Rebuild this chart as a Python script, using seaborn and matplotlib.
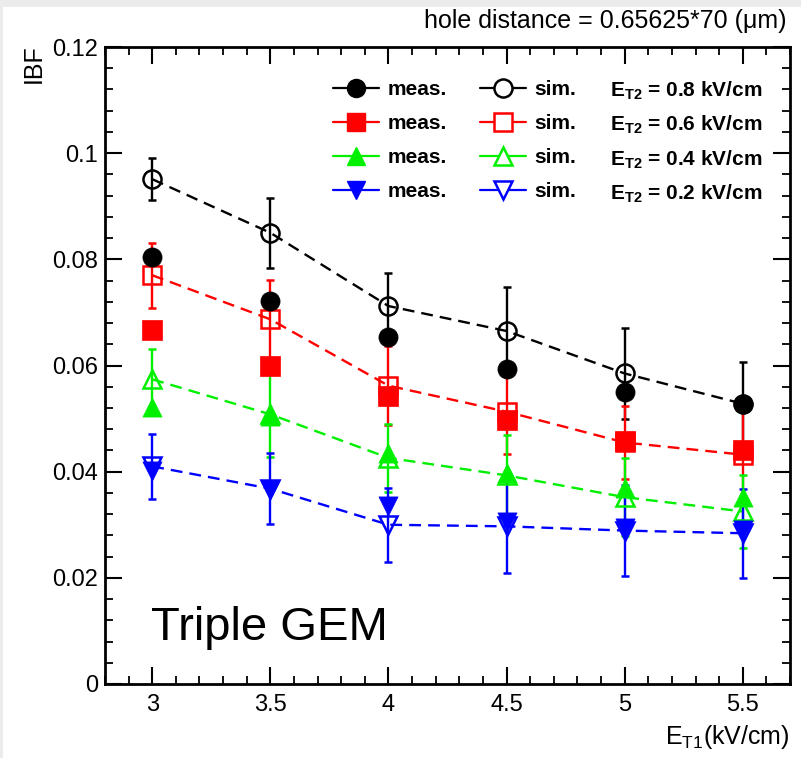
import matplotlib
matplotlib.use("Agg")
import matplotlib.pyplot as plt
import seaborn as sns
import numpy as np
from matplotlib.lines import Line2D
from matplotlib.patches import Rectangle
from matplotlib.ticker import MultipleLocator, FixedLocator

# ---------------- data ----------------
e_t1 = [3.0, 3.5, 4.0, 4.5, 5.0, 5.5]

meas_08 = [0.0805, 0.0721, 0.0653, 0.0594, 0.0551, 0.0528]
sim_08 = [0.0951, 0.0850, 0.0712, 0.0665, 0.0585, 0.0528]
sim_08_err = [0.0039, 0.0066, 0.0062, 0.0082, 0.0085, 0.0079]

meas_06 = [0.0666, 0.0599, 0.0543, 0.0498, 0.0458, 0.0440]
sim_06 = [0.0770, 0.0687, 0.0562, 0.0513, 0.0455, 0.0432]
sim_06_err = [0.0061, 0.0075, 0.0074, 0.0080, 0.0069, 0.0094]

meas_04 = [0.0521, 0.0505, 0.0436, 0.0398, 0.0370, 0.0353]
sim_04 = [0.0574, 0.0508, 0.0426, 0.0393, 0.0352, 0.0325]
sim_04_err = [0.0058, 0.0080, 0.0064, 0.0077, 0.0074, 0.0068]

meas_02 = [0.0402, 0.0366, 0.0335, 0.0306, 0.0294, 0.0290]
sim_02 = [0.0410, 0.0368, 0.0300, 0.0297, 0.0289, 0.0284]
sim_02_err = [0.0061, 0.0067, 0.0070, 0.0087, 0.0085, 0.0084]

et2_labels = ["0.8", "0.6", "0.4", "0.2"]
x_ticks = [3, 3.5, 4, 4.5, 5, 5.5]
x_ticklabels = ["3", "3.5", "4", "4.5", "5", "5.5"]
y_ticks = [0, 0.02, 0.04, 0.06, 0.08, 0.10, 0.12]
y_ticklabels = ["0", "0.02", "0.04", "0.06", "0.08", "0.1", "0.12"]

# ---------------- style ----------------
sns.set_theme(style="ticks")
plt.rcParams["font.family"] = ["Liberation Sans", "DejaVu Sans"]
plt.rcParams["text.color"] = "black"
plt.rcParams["mathtext.fontset"] = "custom"
plt.rcParams["mathtext.rm"] = "Liberation Sans"
plt.rcParams["mathtext.it"] = "Liberation Sans:italic"
plt.rcParams["mathtext.bf"] = "Liberation Sans:bold"

fig = plt.figure(figsize=(8.01, 7.58), dpi=100)
fig.patch.set_facecolor("#ebebeb")
fig.patches.append(Rectangle((3 / 801, 0), 1, 1 - 7 / 758, transform=fig.transFigure,
                             facecolor="white", edgecolor="none", zorder=-10))
ax = fig.add_axes([105 / 801, 74 / 758, 685 / 801, 637 / 758])
ax.set_facecolor("none")

series = [
    (meas_08, sim_08, sim_08_err, "black", "o"),
    (meas_06, sim_06, sim_06_err, "#ff0000", "s"),
    (meas_04, sim_04, sim_04_err, "#00f000", "^"),
    (meas_02, sim_02, sim_02_err, "#0000ff", "v"),
]

for meas, sim, err, c, m in series:
    sns.lineplot(x=e_t1, y=sim, ax=ax, color=c, lw=1.7, linestyle=(0, (5, 3)), zorder=2)
    ax.errorbar(e_t1, sim, yerr=err, fmt=m, ms=13, mfc="none", mec=c, mew=1.8,
                ecolor=c, elinewidth=1.7, capsize=3, capthick=2.2, zorder=3)
    sns.scatterplot(x=e_t1, y=meas, ax=ax, marker=m, s=190, color=c, edgecolor=c,
                    linewidth=0.5, zorder=4)

ax.set_xlim(2.8, 5.7)
ax.set_ylim(0, 0.12)
ax.xaxis.set_major_locator(FixedLocator(x_ticks))
ax.set_xticklabels(x_ticklabels)
ax.xaxis.set_minor_locator(MultipleLocator(0.1))
ax.yaxis.set_major_locator(FixedLocator(y_ticks))
ax.set_yticklabels(y_ticklabels)
ax.yaxis.set_minor_locator(MultipleLocator(0.004))
ax.tick_params(which="both", direction="in", top=True, right=True, colors="black",
               labelsize=17)
ax.tick_params(which="major", length=12, width=1.5)
ax.tick_params(which="minor", length=6, width=1.3)
ax.tick_params(axis="x", pad=7)
ax.tick_params(axis="y", pad=5)
for s in ax.spines.values():
    s.set_linewidth(2)
    s.set_color("black")
    s.set_visible(True)
ax.set_xlabel("")
ax.set_ylabel("")

# texts
fig.text(786 / 801, 1 - 21 / 758, "hole distance = 0.65625*70 (μm)", ha="right",
         va="center", fontsize=18)
fig.text(34 / 801, 1 - 44 / 758, "IBF", rotation=90, ha="center", va="top", fontsize=18)
fig.text(790 / 801, 1 - 737 / 758, r"E$_{\mathrm{T1}}$(kV/cm)", ha="right", va="center",
         fontsize=18)
ax.text(2.995, 0.0083, "Triple GEM", fontsize=34, ha="left", va="baseline")

# legends
colors = [s[3] for s in series]
markers = [s[4] for s in series]
h_meas = [Line2D([], [], color=c, marker=m, ms=13, mfc=c, mec=c, lw=1.6)
          for c, m in zip(colors, markers)]
h_sim = [Line2D([], [], color=c, marker=m, ms=13, mfc="white", mec=c, mew=1.8, lw=1.6)
         for c, m in zip(colors, markers)]
leg1 = ax.legend(h_meas + h_sim, ["meas."] * 4 + ["sim."] * 4, ncol=2,
                 loc="upper left", bbox_to_anchor=(333 / 801, 1 - 80 / 758),
                 bbox_transform=fig.transFigure, frameon=False,
                 prop={"weight": "bold", "size": 15}, handlelength=2.2,
                 handletextpad=0.4, columnspacing=1.6, labelspacing=0.72,
                 borderpad=0, borderaxespad=0)
row_y = [97, 131, 166, 200]
for v, yb in zip(et2_labels, row_y):
    fig.text(610 / 801, 1 - yb / 758, r"$\mathbf{E}_{\mathbf{T2}}$ = " + v + " kV/cm",
             ha="left", va="baseline", fontsize=15, fontweight="bold")

fig.savefig("out.png", dpi=100, facecolor=fig.get_facecolor())
